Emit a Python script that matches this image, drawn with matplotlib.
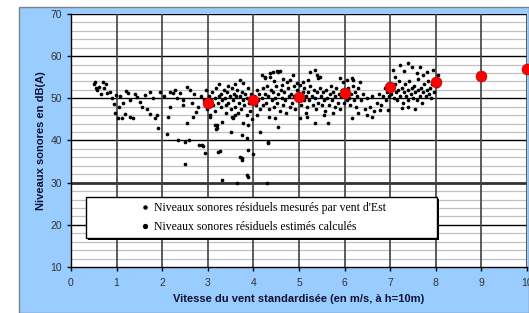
import numpy as np
import matplotlib
matplotlib.use('Agg')
import matplotlib.pyplot as plt
from matplotlib.patches import Rectangle
from matplotlib.lines import Line2D

plt.rcParams['font.family'] = ['Liberation Sans', 'DejaVu Sans']

# niveaux mesures (vitesse m/s, dB(A))
mes_x = [0.50, 0.53, 0.58, 0.62, 0.70, 0.77, 0.79, 0.86, 0.66, 0.55, 0.90, 0.95, 0.96, 0.98, 0.72,
         1.03, 1.12, 1.18, 1.29, 1.36, 1.25, 1.29, 1.51, 1.56, 1.73, 1.73, 1.84, 1.89, 1.91, 1.95,
         1.08, 1.15, 1.40, 1.45, 1.62, 1.66, 1.80, 1.20, 1.05,
         2.11, 2.13, 2.17, 2.17, 2.24, 2.32, 2.39, 2.46, 2.54, 2.61, 2.35, 2.50, 2.59, 2.54, 2.68,
         2.74, 2.81, 2.89, 2.94, 2.50, 2.78, 2.87, 2.70, 2.85, 2.92, 2.05, 2.28, 2.65, 2.45, 2.96, 2.98,
         3.05, 3.20, 3.20, 3.22, 3.05, 3.16, 3.18, 3.31, 3.51, 3.53, 3.55, 3.60, 3.66, 3.75, 3.77,
         3.88, 3.86, 3.27, 3.71, 3.75, 3.88, 3.99, 3.31, 3.64, 3.75, 3.86, 3.88, 3.71, 3.77,
         3.02, 3.08, 3.10, 3.12, 3.15, 3.18, 3.22, 3.25, 3.28, 3.30, 3.32, 3.35, 3.38, 3.40, 3.42,
         3.45, 3.48, 3.50, 3.52, 3.55, 3.58, 3.60, 3.62, 3.65, 3.68, 3.70, 3.72, 3.75, 3.78, 3.80,
         3.82, 3.85, 3.88, 3.90, 3.92, 3.95, 3.98, 3.25, 3.45, 3.60, 3.40, 3.15, 3.85, 3.96,
         4.14, 4.32, 4.32, 4.30, 4.47, 4.54, 4.19, 4.25, 4.36, 4.43, 4.52, 4.58, 4.36, 4.63, 4.74,
         4.80, 4.87, 4.96, 4.25, 4.54,
         4.02, 4.05, 4.08, 4.10, 4.12, 4.15, 4.18, 4.20, 4.22, 4.25, 4.28, 4.30, 4.33, 4.35, 4.38,
         4.40, 4.42, 4.45, 4.48, 4.50, 4.52, 4.55, 4.58, 4.60, 4.62, 4.65, 4.68, 4.70, 4.72, 4.75,
         4.78, 4.80, 4.82, 4.85, 4.88, 4.90, 4.92, 4.95, 4.98, 4.45, 4.65, 4.08, 4.35,
         5.02, 5.24, 5.35, 5.39, 5.42, 5.20, 5.09, 5.90, 5.96, 5.46, 5.02, 5.18, 5.35, 5.64,
         5.02, 5.05, 5.08, 5.10, 5.12, 5.15, 5.18, 5.20, 5.22, 5.25, 5.28, 5.30, 5.32, 5.35, 5.38,
         5.40, 5.42, 5.45, 5.48, 5.50, 5.52, 5.55, 5.58, 5.60, 5.62, 5.65, 5.68, 5.70, 5.72, 5.75,
         5.78, 5.80, 5.82, 5.85, 5.88, 5.90, 5.92, 5.95, 5.98, 5.55, 5.75, 5.15,
         6.05, 6.16, 6.18, 6.34, 6.16, 6.60, 6.78, 6.95,
         6.02, 6.05, 6.08, 6.10, 6.12, 6.15, 6.18, 6.20, 6.22, 6.25, 6.28, 6.30, 6.35, 6.40, 6.45,
         6.50, 6.55, 6.60, 6.65, 6.70, 6.75, 6.80, 6.85, 6.88, 6.90, 6.92, 6.95, 6.98, 6.30, 6.50,
         7.06, 7.21, 7.39, 7.48, 7.59, 7.72, 7.81, 7.94, 8.05, 7.30, 7.65, 7.10,
         7.02, 7.05, 7.08, 7.10, 7.12, 7.15, 7.18, 7.20, 7.22, 7.25, 7.28, 7.30, 7.32, 7.35, 7.38,
         7.40, 7.42, 7.45, 7.48, 7.50, 7.52, 7.55, 7.58, 7.60, 7.62, 7.65, 7.68, 7.70, 7.72, 7.75,
         7.78, 7.80, 7.82, 7.85, 7.88, 7.90, 7.92, 7.95, 7.98, 8.02, 8.05, 7.40, 7.55, 7.25]
mes_y = [53.5, 53.9, 52.0, 52.8, 53.9, 53.4, 51.3, 51.5, 51.0, 52.5, 50.0, 48.6, 46.5, 50.8, 52.4,
         45.4, 45.4, 46.3, 45.6, 45.4, 51.3, 49.6, 49.1, 48.0, 51.5, 46.3, 45.4, 46.1, 43.0, 51.5,
         50.5, 49.0, 51.0, 50.2, 50.8, 47.5, 50.0, 51.8, 48.0,
         41.6, 45.6, 48.0, 51.5, 51.3, 50.1, 51.3, 49.6, 52.7, 52.0, 40.1, 39.7, 40.1, 44.2, 45.6,
         46.8, 39.0, 38.7, 37.1, 34.5, 48.0, 39.0, 51.0, 50.5, 49.5, 50.5, 52.0, 49.0, 48.5, 52.0, 47.5,
         45.6, 43.7, 43.0, 37.3, 46.1, 43.7, 42.7, 44.4, 42.0, 45.6, 45.4, 46.1, 46.5, 41.3, 44.2,
         43.7, 40.6, 37.5, 36.1, 35.4, 37.8, 36.8, 30.7, 30.0, 35.9, 31.9, 31.4, 54.4, 53.6,
         50.5, 49.5, 51.5, 48.5, 50.0, 52.5, 49.0, 50.5, 48.0, 51.0, 49.5, 52.0, 50.0, 48.5, 51.5,
         49.0, 50.5, 47.5, 52.5, 49.5, 51.0, 48.0, 50.5, 52.0, 49.0, 50.5, 47.5, 51.5, 49.5, 48.5,
         51.0, 50.0, 52.5, 49.0, 47.0, 51.0, 50.0, 53.5, 53.0, 53.5, 46.5, 47.0, 46.0, 45.0,
         42.0, 39.4, 39.7, 30.0, 45.4, 43.2, 55.5, 54.8, 55.1, 56.3, 56.5, 56.5, 56.0, 53.2, 53.9,
         54.4, 55.5, 53.6, 55.1, 56.3,
         50.5, 48.5, 52.0, 49.5, 51.0, 47.5, 50.0, 52.5, 48.5, 51.0, 49.0, 53.0, 50.5, 47.5, 52.0,
         49.5, 51.5, 48.0, 50.0, 53.0, 49.0, 51.0, 47.0, 52.0, 50.0, 48.5, 51.5, 49.5, 46.5, 52.5,
         50.5, 48.0, 51.0, 49.0, 53.0, 50.5, 47.5, 52.0, 49.5, 54.0, 54.5, 46.0, 45.5,
         53.2, 56.3, 56.7, 55.5, 54.8, 54.4, 53.9, 54.8, 53.9, 55.1, 45.4, 45.6, 44.2, 44.2,
         50.0, 48.5, 51.5, 49.5, 52.5, 50.5, 48.0, 51.5, 49.5, 53.0, 50.5, 48.5, 52.0, 50.0, 47.5,
         51.5, 49.0, 52.5, 50.5, 48.5, 51.5, 49.5, 47.0, 52.0, 50.0, 48.5, 51.0, 53.0, 49.5, 51.5,
         48.0, 50.5, 52.5, 49.0, 51.0, 47.5, 50.5, 52.0, 49.0, 46.0, 46.5, 46.5,
         54.4, 54.8, 54.4, 53.9, 45.4, 45.6, 47.3, 47.3,
         51.5, 49.5, 52.5, 50.0, 48.5, 51.0, 53.0, 49.5, 51.5, 48.0, 50.5, 52.5, 49.5, 51.0, 47.5,
         50.0, 48.0, 50.5, 47.0, 49.0, 51.0, 48.5, 50.5, 52.5, 49.5, 51.5, 53.5, 50.5, 46.5, 46.0,
         56.7, 57.9, 58.3, 57.4, 56.0, 55.5, 56.3, 56.7, 55.5, 56.5, 57.5, 55.0,
         51.0, 52.5, 50.0, 53.5, 51.5, 49.5, 52.0, 54.0, 50.5, 52.5, 49.0, 51.5, 53.5, 50.5, 52.0,
         49.5, 54.0, 51.0, 52.5, 50.0, 53.0, 51.5, 49.5, 52.0, 54.5, 50.5, 52.5, 49.0, 51.5, 53.5,
         50.5, 52.0, 54.0, 51.0, 52.5, 50.0, 53.5, 51.5, 54.5, 53.0, 54.0, 48.0, 47.5, 47.8]

# niveaux estimes
est_x = [3, 4, 5, 6, 7, 8, 9, 10]
est_y = [48.9, 49.6, 50.3, 51.3, 52.7, 53.9, 55.3, 57.0]

lab_mes = "Niveaux sonores résiduels mesurés par vent d'Est"
lab_est = "Niveaux sonores résiduels estimés calculés"

fig = plt.figure(figsize=(5.29, 3.13), dpi=100)
fig.patch.set_facecolor('white')
fond = Rectangle((19 / 529, 0), 1 - 19 / 529, 1 - 7 / 313, transform=fig.transFigure,
                 facecolor='#99ccff', edgecolor='#808080', lw=1, zorder=-5)
fig.add_artist(fond)

ax = fig.add_axes([71 / 529, 1 - 267 / 313, 456 / 529, 253 / 313])
ax.set_zorder(1)
ax.set_facecolor('white')
ax.set_xlim(0, 10)
ax.set_ylim(10, 70)

# grille
for yy in np.arange(12, 70, 2):
    if yy % 10:
        ax.axhline(yy, color='#c0c0c0', lw=0.9, zorder=1)
for yy in [20, 40, 50, 60, 70]:
    ax.axhline(yy, color='black', lw=1.0, zorder=1)
ax.axhline(30, color='#333333', lw=2.0, zorder=1)
for xx in range(1, 11):
    ax.axvline(xx, color='#404040', lw=1.2, zorder=1)

ax.scatter(mes_x, mes_y, s=7, color='black', zorder=3, linewidths=0)
ax.scatter(est_x, est_y, s=62, color='#ff0000', edgecolors='#aa0000', linewidths=0.4, zorder=4,
           clip_on=False)

ax.set_xticks(range(0, 11))
ax.set_yticks(range(10, 71, 10))
ax.tick_params(axis='both', labelsize=7.5, labelcolor='#333333', length=3, width=1, color='black')
ax.tick_params(axis='x', pad=5)
for s in ['top', 'right']:
    ax.spines[s].set_visible(False)
ax.spines['left'].set_linewidth(1)
ax.spines['bottom'].set_linewidth(1)

ax.set_xlabel('Vitesse du vent standardisée (en m/s, à h=10m)', fontsize=8, fontweight='bold',
              color='#111133', labelpad=4)
ax.set_ylabel('Niveaux sonores en dB(A)', fontsize=8, fontweight='bold', color='#111133', labelpad=3)

# cadre de la legende
x0, x1 = (86 - 71) / 456, (437 - 71) / 456
y0, y1 = (267 - 238) / 253, (267 - 197) / 253
ax.add_patch(Rectangle((x0 + 0.004, y0 - 0.008), x1 - x0, y1 - y0, transform=ax.transAxes,
                       facecolor='black', edgecolor='none', zorder=5))
ax.add_patch(Rectangle((x0, y0), x1 - x0, y1 - y0, transform=ax.transAxes,
                       facecolor='white', edgecolor='black', lw=1, zorder=6))

h1 = Line2D([], [], ls='none', marker='o', ms=2.2, color='black')
h2 = Line2D([], [], ls='none', marker='o', ms=2.8, color='black')
leg = ax.legend([h1, h2], [lab_mes, lab_est], loc='center left',
                bbox_to_anchor=((136 - 71) / 456, (y0 + y1) / 2), frameon=False,
                prop={'family': 'Liberation Serif', 'size': 8.5}, handlelength=0.8,
                handletextpad=0.3, labelspacing=0.65, borderaxespad=0)
leg.set_zorder(7)

fig.savefig('out.png', dpi=100)
